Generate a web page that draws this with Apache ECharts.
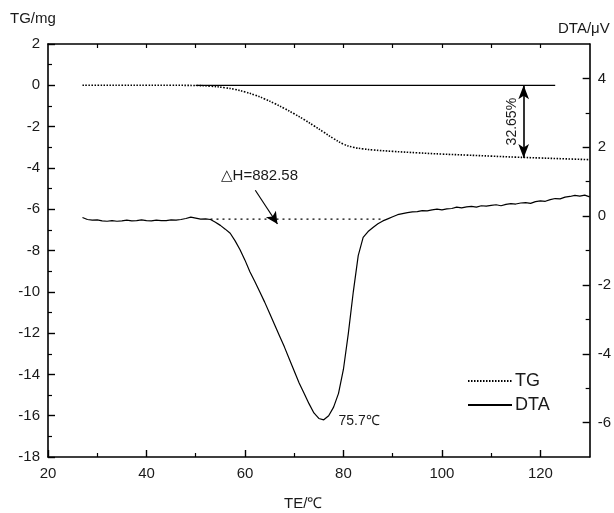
<!DOCTYPE html>
<html>
<head>
<meta charset="utf-8">
<script src="https://cdn.jsdelivr.net/npm/echarts@6/dist/echarts.min.js"></script>
<style>
html,body{margin:0;padding:0;background:#fff;}
#c{width:614px;height:513px;}
</style>
</head>
<body>
<div id="c"></div>
<script>
// ---- data ----
var tgX = [27, 30, 35, 40, 45, 50, 53, 56, 58, 60, 62, 64, 66, 68, 70, 72, 74, 76, 78, 80, 82, 84, 86, 90, 95, 100, 105, 110, 115, 120, 125, 130];
var tgY = [0, 0, 0, 0, 0, -0.01, -0.04, -0.12, -0.2, -0.32, -0.47, -0.66, -0.88, -1.12, -1.38, -1.66, -1.96, -2.27, -2.58, -2.85, -3.0, -3.08, -3.13, -3.2, -3.27, -3.33, -3.38, -3.43, -3.48, -3.52, -3.56, -3.6];

var dtaX = [];
for (var t = 27; t <= 130; t++) dtaX.push(t);
var dtaY = [-0.04, -0.10, -0.12, -0.11, -0.14, -0.15, -0.13, -0.15, -0.14, -0.12,
            -0.14, -0.13, -0.11, -0.13, -0.14, -0.12, -0.13, -0.13, -0.11, -0.12,
            -0.10, -0.07, -0.03, -0.06, -0.09, -0.08, -0.10, -0.18, -0.27, -0.38,
            -0.50, -0.72, -0.98, -1.28, -1.62, -1.90, -2.20, -2.50, -2.82, -3.15,
            -3.48, -3.80, -4.15, -4.50, -4.85, -5.15, -5.45, -5.72, -5.88, -5.92,
            -5.80, -5.55, -5.15, -4.45, -3.40, -2.20, -1.15, -0.62, -0.45, -0.33,
            -0.22, -0.14, -0.08, -0.02, 0.04, 0.07, 0.10, 0.12, 0.13, 0.16,
            0.15, 0.18, 0.20, 0.18, 0.21, 0.22, 0.26, 0.24, 0.27, 0.28,
            0.26, 0.30, 0.29, 0.31, 0.33, 0.30, 0.34, 0.36, 0.35, 0.38,
            0.39, 0.37, 0.42, 0.44, 0.43, 0.48, 0.51, 0.50, 0.55, 0.57,
            0.60, 0.58, 0.61, 0.56];

var refLineX = [50, 123];      // solid TG reference line at 0
var refLineY = [0, 0];
var baseX = [53, 88.3];        // DTA dotted baseline
var baseY = [-0.09, -0.09];
var lossArrowX = 116.6;        // weight-loss double arrow
var lossArrowY = [0, -3.52];
var lossText = '32.65%';
var dhArrow = [[62.1, 0.75], [66.6, -0.23]];
var dhText = '\u25B3H=882.58';
var peakText = '75.7\u2103';
var peakPos = [79.0, -5.95];

var xMajor = [20, 40, 60, 80, 100, 120];
var xMinor = [30, 50, 70, 90, 110];
var xTop = [30, 40, 50, 60, 70, 80, 90, 100, 110, 120];
var yRMajor = [-6, -4, -2, 0, 2, 4];
var yRMinor = [-5, -3, -1, 1, 3];

function zip(a, b) { return a.map(function (v, i) { return [v, b[i]]; }); }

var FONT = 'Liberation Sans, Arial, sans-serif';
var INK = '#1a1a1a';
var chart = echarts.init(document.getElementById('c'), null, {renderer: 'canvas'});

var axLine = {show: true, onZero: false, lineStyle: {color: '#000', width: 1.6}};
var noLine = {show: false, onZero: false};
var option = {
  animation: false,
  backgroundColor: '#fff',
  grid: {left: 48, right: 21, top: 44, bottom: 56},
  legend: {
    orient: 'vertical', left: 462, top: 367, itemWidth: 44, itemHeight: 12, itemGap: 6,
    data: ['TG', 'DTA'],
    itemStyle: {opacity: 0},
    textStyle: {fontFamily: FONT, fontSize: 18, color: INK, padding: [0, 0, 0, -2]}
  },
  xAxis: [
    {type: 'value', min: 20, max: 130, position: 'bottom', axisLine: axLine,
     axisTick: {show: true, inside: true, length: 7, customValues: xMajor, lineStyle: {color: '#000', width: 1.4}},
     axisLabel: {customValues: xMajor, margin: 9, fontFamily: FONT, fontSize: 15, color: INK},
     splitLine: {show: false}},
    {type: 'value', min: 20, max: 130, position: 'bottom', axisLine: noLine,
     axisTick: {show: true, inside: true, length: 4, customValues: xMinor, lineStyle: {color: '#000', width: 1.2}},
     axisLabel: {show: false}, splitLine: {show: false}},
    {type: 'value', min: 20, max: 130, position: 'top', axisLine: axLine,
     axisTick: {show: true, inside: true, length: 4, customValues: xTop, lineStyle: {color: '#000', width: 1.2}},
     axisLabel: {show: false}, splitLine: {show: false}}
  ],
  yAxis: [
    {type: 'value', min: -18, max: 2, interval: 2, position: 'left', axisLine: axLine,
     axisTick: {show: true, inside: true, length: 7, lineStyle: {color: '#000', width: 1.4}},
     minorTick: {show: true, splitNumber: 2, length: 4, lineStyle: {color: '#000', width: 1.2}},
     axisLabel: {margin: 8, fontFamily: FONT, fontSize: 15, color: INK},
     splitLine: {show: false}, minorSplitLine: {show: false}},
    {type: 'value', min: -7, max: 5, position: 'right', axisLine: axLine,
     axisTick: {show: true, inside: true, length: 7, customValues: yRMajor, lineStyle: {color: '#000', width: 1.4}},
     axisLabel: {customValues: yRMajor, margin: 8, fontFamily: FONT, fontSize: 15, color: INK},
     splitLine: {show: false}},
    {type: 'value', min: -7, max: 5, position: 'right', axisLine: noLine,
     axisTick: {show: true, inside: true, length: 4, customValues: yRMinor, lineStyle: {color: '#000', width: 1.2}},
     axisLabel: {show: false}, splitLine: {show: false}}
  ],
  series: [
    {name: 'TG', type: 'line', xAxisIndex: 0, yAxisIndex: 0, data: zip(tgX, tgY), smooth: 0.4,
     symbol: 'none', lineStyle: {color: '#000', width: 1.6, type: [1.5, 1.5]}, itemStyle: {color: '#000'}},
    {name: 'DTA', type: 'line', xAxisIndex: 0, yAxisIndex: 1, data: zip(dtaX, dtaY),
     symbol: 'none', lineStyle: {color: '#000', width: 1.2}, itemStyle: {color: '#000'},
     markLine: {silent: true, symbol: ['none', 'arrow'], symbolSize: [9, 12], label: {show: false},
       lineStyle: {color: '#000', width: 1.2, type: 'solid'},
       data: [[{coord: dhArrow[0]}, {coord: dhArrow[1]}]]}},
    {name: 'ref', type: 'line', xAxisIndex: 0, yAxisIndex: 0, data: zip(refLineX, refLineY),
     symbol: 'none', lineStyle: {color: '#000', width: 1.2}, silent: true,
     markLine: {silent: true, symbol: ['arrow', 'arrow'], symbolSize: [8, 14], label: {show: false},
       lineStyle: {color: '#000', width: 1.6, type: 'solid'},
       data: [[{coord: [lossArrowX, lossArrowY[0]]}, {coord: [lossArrowX, lossArrowY[1]]}]]}},
    {name: 'base', type: 'line', xAxisIndex: 0, yAxisIndex: 1, data: zip(baseX, baseY),
     symbol: 'none', lineStyle: {color: '#000', width: 1.2, type: [2, 4]}, silent: true}
  ]
};
chart.setOption(option);

function px(pt, yi) { return chart.convertToPixel({xAxisIndex: 0, yAxisIndex: yi}, pt); }
var pLoss = px([lossArrowX, (lossArrowY[0] + lossArrowY[1]) / 2], 0);
var pDh = px(dhArrow[0], 1);
var pPeak = px(peakPos, 1);
chart.setOption({
  graphic: [
    {type: 'text', left: 10, top: 11, style: {text: 'TG/mg', font: '15px ' + FONT, fill: INK}},
    {type: 'text', left: 558, top: 21, style: {text: 'DTA/\u03BCV', font: '15px ' + FONT, fill: INK}},
    {type: 'text', left: 284, top: 496, style: {text: 'TE/\u2103', font: '15px ' + FONT, fill: INK}},
    {type: 'text', x: pLoss[0] - 12, y: pLoss[1], rotation: Math.PI / 2,
     style: {text: lossText, font: '14px ' + FONT, fill: INK, align: 'center', verticalAlign: 'middle'}},
    {type: 'text', x: pDh[0] + 4, y: pDh[1] - 14,
     style: {text: dhText, font: '15px ' + FONT, fill: INK, align: 'center', verticalAlign: 'middle'}},
    {type: 'text', x: pPeak[0], y: pPeak[1],
     style: {text: peakText, font: '14px ' + FONT, fill: INK, align: 'left', verticalAlign: 'middle'}}
  ]
});
</script>
</body>
</html>
